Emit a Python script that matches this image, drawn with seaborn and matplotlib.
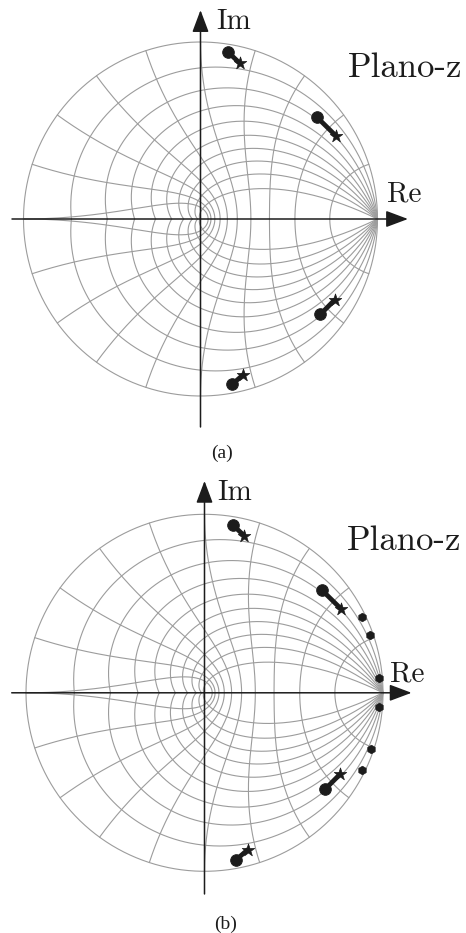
import numpy as np
import pandas as pd
import matplotlib
matplotlib.use("Agg")
import matplotlib.pyplot as plt
import seaborn as sns

# z-plane grid levels: damping ratios and natural frequencies (as fractions of pi/T)
zeta_levels = [0.0, 0.1, 0.2, 0.3, 0.4, 0.5, 0.6, 0.7, 0.8, 0.9]
wn_levels = [0.1, 0.2, 0.3, 0.4, 0.5, 0.6, 0.7, 0.8, 0.9, 1.0]

# closed-loop poles: initial (circles) and final (stars) locations
pole_start_re = [0.157, 0.657, 0.677, 0.178]
pole_start_im = [0.942, 0.576, -0.539, -0.935]
pole_end_re = [0.221, 0.765, 0.758, 0.242]
pole_end_im = [0.881, 0.470, -0.457, -0.879]

# additional poles shown in case (b)
extra_re = [0.880, 0.927, 0.979, 0.979, 0.933, 0.880]
extra_im = [0.425, 0.323, 0.081, -0.078, -0.313, -0.434]

panel_labels = ["(a)", "(b)"]
plane_label = "Plano-z"

GRID = "#9c9c9c"
INK = "#1c1c1c"


def zgrid_frame():
    parts = []
    th = np.linspace(0.0, np.pi, 500)
    for i, zt in enumerate(zeta_levels):
        r = np.exp(-zt * th / np.sqrt(1.0 - zt ** 2))
        c = r * np.exp(1j * th)
        for s in (1, -1):
            parts.append(pd.DataFrame({"re": c.real, "im": s * c.imag,
                                       "curve": f"z{i}{s}"}))
    zz = np.linspace(0.0, 1.0, 400)
    for k, w in enumerate(wn_levels):
        wt = w * np.pi
        c = np.exp(-zz * wt) * np.exp(1j * wt * np.sqrt(1.0 - zz ** 2))
        for s in (1, -1):
            parts.append(pd.DataFrame({"re": c.real, "im": s * c.imag,
                                       "curve": f"w{k}{s}"}))
    return pd.concat(parts, ignore_index=True)


grid_df = zgrid_frame()

traj_rows = []
for i in range(len(pole_start_re)):
    traj_rows.append({"re": pole_start_re[i], "im": pole_start_im[i], "pole": i})
    traj_rows.append({"re": pole_end_re[i], "im": pole_end_im[i], "pole": i})
traj_df = pd.DataFrame(traj_rows)
start_df = pd.DataFrame({"re": pole_start_re, "im": pole_start_im})
end_df = pd.DataFrame({"re": pole_end_re, "im": pole_end_im})
extra_df = pd.DataFrame({"re": extra_re, "im": extra_im})

sns.set_style("white")

W, H = 466, 933
fig = plt.figure(figsize=(W / 100, H / 100), dpi=100)

# per-panel layout: pixel origin (centre of unit circle), pixels per unit, axes box
panels = [
    dict(cx=200.5, cy=219.0, scale=177.0, top=0, height=466,
         xaxis=(-1.065, 1.172), yaxis=(-1.175, 1.180),
         im=(0.090, 1.113), re=(1.052, 0.141), plano=(0.835, 0.853),
         cap=(0.121, -1.322), extra=False),
    dict(cx=204.5, cy=692.8, scale=178.5, top=466, height=467,
         xaxis=(-1.080, 1.160), yaxis=(-1.127, 1.187),
         im=(0.073, 1.119), re=(1.037, 0.105), plano=(0.800, 0.850),
         cap=(0.118, -1.295), extra=True),
]

for p, cap in zip(panels, panel_labels):
    ax = fig.add_axes([0, 1 - (p["top"] + p["height"]) / H, 1, p["height"] / H])
    s = p["scale"]
    ax.set_xlim(-p["cx"] / s, (W - p["cx"]) / s)
    ax.set_ylim((p["cy"] - (p["top"] + p["height"])) / s, (p["cy"] - p["top"]) / s)
    ax.set_axis_off()

    sns.lineplot(data=grid_df, x="re", y="im", units="curve", estimator=None,
                 sort=False, color=GRID, lw=0.8, ax=ax, zorder=1, legend=False)

    # coordinate axes with arrowheads
    arrow = dict(arrowstyle="-|>,head_length=0.4,head_width=0.15",
                 mutation_scale=34, lw=1.1, color=INK, shrinkA=0, shrinkB=0)
    x0, x1 = p["xaxis"]
    y0, y1 = p["yaxis"]
    ax.annotate("", xy=(x1, 0), xytext=(x0, 0), arrowprops=arrow, zorder=3)
    ax.annotate("", xy=(0, y1), xytext=(0, y0), arrowprops=arrow, zorder=3)

    sns.lineplot(data=traj_df, x="re", y="im", units="pole", estimator=None,
                 sort=False, color=INK, lw=3.4, ax=ax, zorder=4, legend=False)
    sns.scatterplot(data=start_df, x="re", y="im", marker="o", s=70,
                    color=INK, edgecolor=INK, ax=ax, zorder=5, legend=False)
    sns.scatterplot(data=end_df, x="re", y="im", marker="*", s=90,
                    color=INK, edgecolor=INK, linewidth=0.5, ax=ax, zorder=5,
                    legend=False)
    if p["extra"]:
        sns.scatterplot(data=extra_df, x="re", y="im", marker="h", s=38,
                        color=INK, edgecolor=INK, ax=ax, zorder=5, legend=False)

    ax.text(*p["im"], "Im", family="cmr10", fontsize=21, color=INK,
            ha="left", va="center")
    ax.text(*p["re"], "Re", family="cmr10", fontsize=21, color=INK,
            ha="left", va="center")
    ax.text(*p["plano"], plane_label, family="cmr10", fontsize=25, color=INK,
            ha="left", va="center")
    ax.text(*p["cap"], cap, family=["Liberation Serif", "DejaVu Serif"],
            fontsize=14, color=INK, ha="center", va="center")
    ax.set_xlabel("")
    ax.set_ylabel("")

fig.savefig("out.png", dpi=100)
